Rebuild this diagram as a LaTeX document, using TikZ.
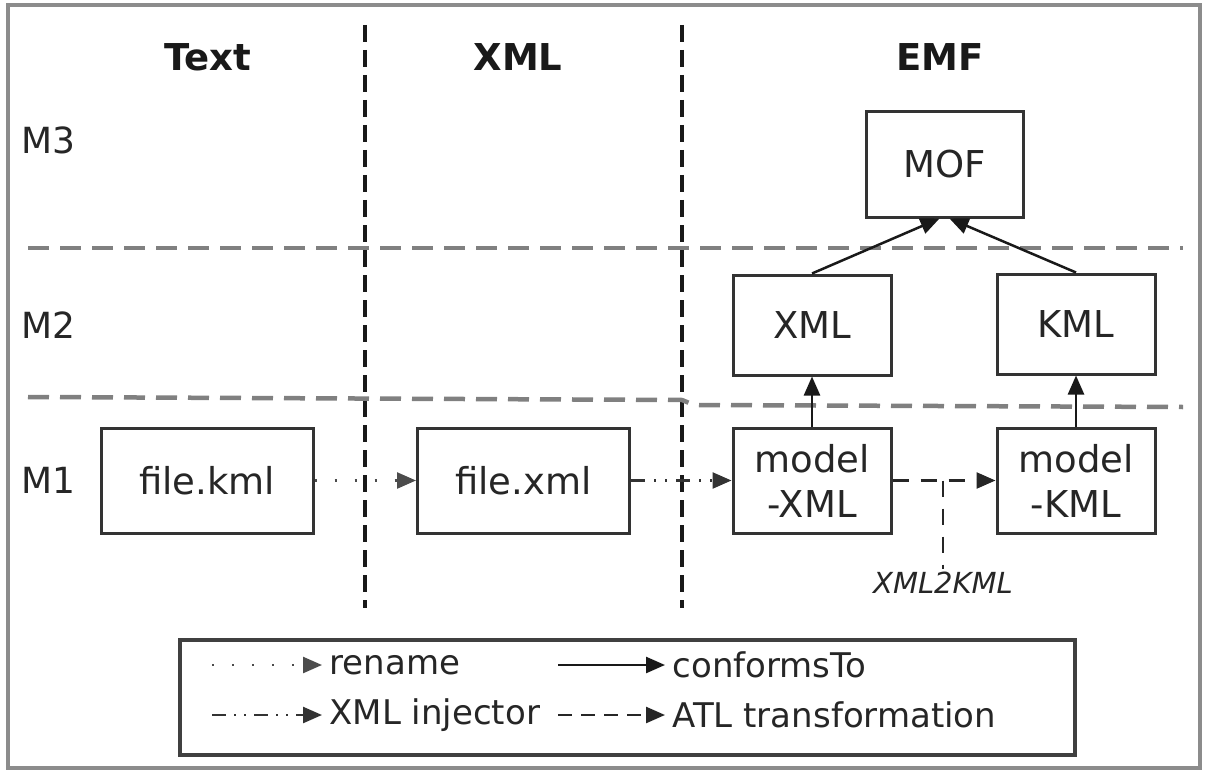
\documentclass[tikz,border=0pt]{standalone}
\usepackage{fontspec}
\setmainfont{DejaVu Sans}
\usetikzlibrary{arrows.meta}

\begin{document}
\begin{tikzpicture}[x=1pt, y=-1pt,
    box/.style={rectangle, draw=black!80, line width=3pt, fill=white,
        inner sep=0pt, align=center, text=black!85,
        font=\fontsize{37}{45}\selectfont},
    header/.style={font=\fontsize{37}{40}\selectfont\bfseries, text=black!90},
    level/.style={anchor=west, font=\fontsize{36}{40}\selectfont, text=black!85},
    legtext/.style={anchor=west, font=\fontsize{34}{40}\selectfont, text=black!85},
    column/.style={line width=4pt, black!90, dash pattern=on 17pt off 8pt},
    row/.style={line width=4.5pt, black!50, dash pattern=on 21pt off 11pt},
    tip/.style={-{Triangle[length=19pt,width=16pt]}},
    conforms/.style={tip, line width=2.5pt, black!90},
    rename/.style={tip, line width=2.5pt, black!70, dash pattern=on 2pt off 18pt},
    injector/.style={tip, line width=2.5pt, black!80,
        dash pattern=on 14pt off 9pt on 2pt off 9pt on 2pt off 9pt},
    atl/.style={tip, line width=2.5pt, black!85, dash pattern=on 16pt off 12pt}
]
    \useasboundingbox (0,0) rectangle (1208,773);
    \draw[black!45, line width=3.5pt] (8,5) rectangle (1200,768);

    % column and level separators
    \draw[column] (365,25) -- (365,608);
    \draw[column] (682,25) -- (682,608);
    \draw[row] (28,248) -- (1183,248);
    \draw[row] (28,397) -- (682,400) -- (694,405) -- (1183,407);

    % headers and levels
    \node[header] (htext) at (208,57) {Text};
    \node[header] (hxml) at (518,57) {XML};
    \node[header] (hemf) at (940,57) {EMF};
    \node[level] (m3) at (18,140) {M3};
    \node[level] (m2) at (18,325) {M2};
    \node[level] (m1) at (18,480) {M1};

    % models
    \node[box, minimum width=157pt, minimum height=105pt] (mof) at (944.5,164.5) {MOF};
    \node[box, minimum width=158pt, minimum height=100pt] (xmlmm) at (812,325) {XML};
    \node[box, minimum width=158pt, minimum height=100pt] (kmlmm) at (1076,324) {KML};
    \node[box, minimum width=212pt, minimum height=105pt] (filekml) at (207,480.5) {file.kml};
    \node[box, minimum width=212pt, minimum height=105pt] (filexml) at (523.5,480.5) {file.xml};
    \node[box, minimum width=158pt, minimum height=105pt] (modelxml) at (812,480.5) {model\\-XML};
    \node[box, minimum width=158pt, minimum height=105pt] (modelkml) at (1076,480.5) {model\\-KML};

    % relations
    \draw[conforms] (xmlmm.north) -- ([xshift=-5pt]mof.south);
    \draw[conforms] (kmlmm.north) -- ([xshift=5pt]mof.south);
    \draw[conforms] (modelxml.north) -- (xmlmm.south);
    \draw[conforms] (modelkml.north) -- (kmlmm.south);
    \draw[rename] (filekml.east) -- (filexml.west);
    \draw[injector] (filexml.east) -- (modelxml.west);
    \draw[atl] (modelxml.east) -- (modelkml.west);

    % transformation name
    \coordinate (atlfork) at (943,480.5);
    \node[font=\fontsize{29}{32}\selectfont\itshape, text=black!85] (xml2kml) at (943,583) {XML2KML};
    \draw[line width=2.5pt, black!85, dash pattern=on 16pt off 12pt] (atlfork) -- (xml2kml.north);

    % legend
    \draw[black!75, line width=3.5pt] (180,640) rectangle (1075,755);
    \coordinate (ra) at (212,665);
    \coordinate (rb) at (322,665);
    \coordinate (ca) at (558,665);
    \coordinate (cb) at (665,665);
    \coordinate (ia) at (212,715);
    \coordinate (ib) at (322,715);
    \coordinate (ta) at (558,715);
    \coordinate (tb) at (665,715);
    \draw[rename] (ra) -- (rb);
    \draw[conforms] (ca) -- (cb);
    \draw[injector, dash pattern=on 14pt off 8pt on 2pt off 8pt on 2pt off 8pt] (ia) -- (ib);
    \draw[atl, dash pattern=on 14pt off 9pt] (ta) -- (tb);
    \node[legtext] (lrename) at (326,665) {rename};
    \node[legtext] (lconforms) at (669,665) {conformsTo};
    \node[legtext] (linjector) at (326,715) {XML injector};
    \node[legtext] (latl) at (669,715) {ATL transformation};
\end{tikzpicture}
\end{document}
